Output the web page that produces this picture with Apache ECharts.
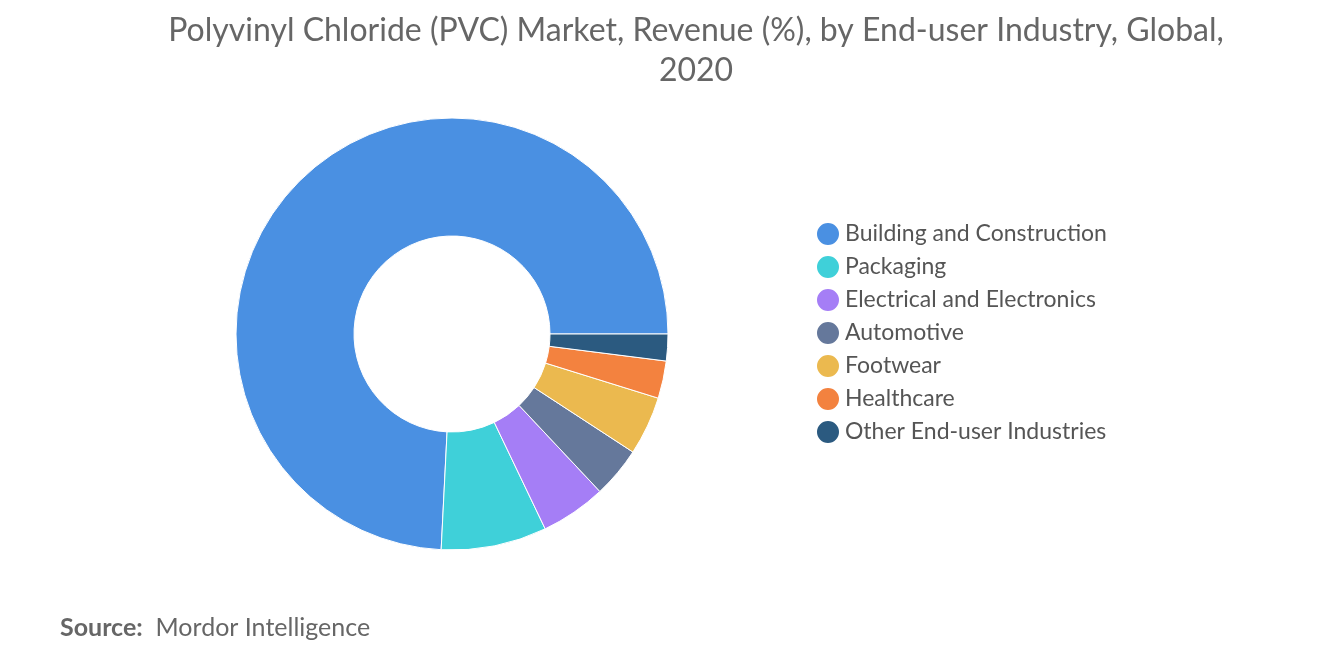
<!DOCTYPE html>
<html>
<head>
<meta charset="utf-8">
<script src="https://cdn.jsdelivr.net/npm/echarts@6/dist/echarts.min.js"></script>
<style>body{margin:0}#main{width:1320px;height:665px}</style>
</head>
<body>
<div id="main"></div>
<script>
var categories = ['Building and Construction', 'Packaging', 'Electrical and Electronics', 'Automotive', 'Footwear', 'Healthcare', 'Other End-user Industries'];
var values = [74.2, 7.9, 4.9, 3.8, 4.4, 2.8, 2.0];
var colors = ['#4a90e2', '#3fd0d9', '#a57ef6', '#65789b', '#ebb94f', '#f3823f', '#2b5a80'];

var chart = echarts.init(document.getElementById('main'));
chart.setOption({
  color: colors,
  title: [{
    text: 'Polyvinyl Chloride (PVC) Market, Revenue (%), by End-user Industry, Global,\n2020',
    left: 691, top: 6,
    textAlign: 'center',
    textStyle: { fontFamily: 'Lato', fontSize: 32, fontWeight: 'normal', color: '#666', lineHeight: 40 }
  }, {
    text: '{b|Source:}  Mordor Intelligence',
    left: 55, top: 610,
    textStyle: { fontFamily: 'Lato', fontSize: 25, fontWeight: 'normal', color: '#666',
      rich: { b: { fontFamily: 'Lato', fontSize: 25, fontWeight: 'bold', color: '#666' } } }
  }],
  legend: {
    orient: 'vertical', left: 810, top: 216,
    icon: 'circle', itemWidth: 24, itemHeight: 24, itemGap: 7,
    textStyle: { fontFamily: 'Lato', fontSize: 23, color: '#555' },
    data: categories
  },
  series: [{
    type: 'pie',
    center: [452, 334],
    radius: [98, 216],
    startAngle: 0,
    clockwise: false,
    label: { show: false },
    labelLine: { show: false },
    itemStyle: { borderColor: '#fff', borderWidth: 1 },
    data: categories.map(function (c, i) { return { name: c, value: values[i] }; })
  }]
});
</script>
</body>
</html>
